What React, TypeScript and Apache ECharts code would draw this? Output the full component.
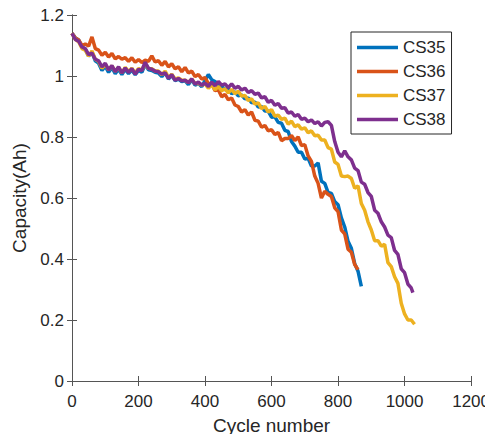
import React, { useEffect, useRef } from "react";
import * as echarts from "echarts";

const seriesNames = ["CS35", "CS36", "CS37", "CS38"];
const colors = ["#0072BD", "#D95319", "#EDB120", "#7E2F8E"];

const xTicks = [0, 200, 400, 600, 800, 1000, 1200];
const yTicks = [0, 0.2, 0.4, 0.6, 0.8, 1, 1.2];

const cyclesCS35 = [0,10,20,30,40,50,60,70,80,90,100,110,120,130,140,150,160,170,180,190,200,210,220,230,240,250,260,270,280,290,300,310,320,330,340,350,360,370,380,390,400,410,420,430,440,450,460,470,480,490,500,510,520,530,540,550,560,570,580,590,600,610,620,630,640,650,660,670,680,690,700,710,720,730,740,750,760,770,780,790,800,810,820,830,840,850,860,870];
const capCS35 = [1.14,1.125,1.118,1.095,1.088,1.065,1.078,1.05,1.042,1.018,1.032,1.012,1.028,1.008,1.022,1.005,1.022,1.008,1.02,1.004,1.018,1.012,1.038,1.02,1.018,1.012,1.01,0.998,1.012,0.99,1.002,0.985,0.99,0.982,0.985,0.972,0.988,0.97,0.976,0.965,0.985,1.005,0.988,0.982,0.97,0.968,0.955,0.958,0.942,0.948,0.935,0.938,0.925,0.928,0.912,0.915,0.898,0.9,0.885,0.885,0.865,0.866,0.848,0.845,0.822,0.818,0.785,0.77,0.75,0.75,0.728,0.73,0.705,0.705,0.715,0.655,0.648,0.618,0.615,0.588,0.578,0.535,0.505,0.458,0.435,0.385,0.36,0.31];

const cyclesCS36 = [0,10,20,30,40,50,60,70,80,90,100,110,120,130,140,150,160,170,180,190,200,210,220,230,240,250,260,270,280,290,300,310,320,330,340,350,360,370,380,390,400,410,420,430,440,450,460,470,480,490,500,510,520,530,540,550,560,570,580,590,600,610,620,630,640,650,660,670,680,690,700,710,720,730,740,750,760,770,780,790,800,810,820,830,840,850,860];
const capCS36 = [1.14,1.125,1.118,1.1,1.105,1.098,1.128,1.09,1.085,1.068,1.078,1.062,1.074,1.056,1.064,1.055,1.06,1.048,1.06,1.045,1.054,1.044,1.052,1.048,1.066,1.046,1.05,1.035,1.048,1.03,1.04,1.024,1.03,1.014,1.028,1.01,1.016,0.998,1.005,0.99,0.995,0.975,0.975,0.952,0.955,0.932,0.94,0.922,0.928,0.905,0.9,0.882,0.89,0.872,0.882,0.855,0.852,0.832,0.838,0.82,0.824,0.808,0.815,0.788,0.795,0.795,0.805,0.788,0.8,0.772,0.775,0.738,0.72,0.672,0.648,0.6,0.622,0.612,0.605,0.568,0.555,0.495,0.482,0.432,0.422,0.382,0.365];

const cyclesCS37 = [0,10,20,30,40,50,60,70,80,90,100,110,120,130,140,150,160,170,180,190,200,210,220,230,240,250,260,270,280,290,300,310,320,330,340,350,360,370,380,390,400,410,420,430,440,450,460,470,480,490,500,510,520,530,540,550,560,570,580,590,600,610,620,630,640,650,660,670,680,690,700,710,720,730,740,750,760,770,780,790,800,810,820,830,840,850,860,870,880,890,900,910,920,930,940,950,960,970,980,990,1000,1010,1020,1030];
const capCS37 = [1.14,1.12,1.112,1.09,1.085,1.065,1.082,1.055,1.048,1.025,1.038,1.02,1.033,1.015,1.028,1.01,1.028,1.015,1.025,1.01,1.024,1.02,1.04,1.025,1.024,1.016,1.016,1.004,1.016,0.995,1.006,0.99,0.994,0.986,0.986,0.978,0.99,0.975,0.976,0.97,0.974,0.96,0.972,0.955,0.966,0.952,0.958,0.945,0.956,0.942,0.95,0.934,0.936,0.92,0.925,0.908,0.912,0.893,0.9,0.882,0.89,0.868,0.872,0.858,0.862,0.842,0.852,0.834,0.84,0.826,0.83,0.814,0.82,0.804,0.806,0.79,0.79,0.765,0.76,0.718,0.71,0.672,0.67,0.672,0.664,0.632,0.64,0.582,0.56,0.522,0.495,0.46,0.46,0.442,0.448,0.388,0.375,0.342,0.32,0.255,0.22,0.2,0.2,0.186];

const cyclesCS38 = [0,10,20,30,40,50,60,70,80,90,100,110,120,130,140,150,160,170,180,190,200,210,220,230,240,250,260,270,280,290,300,310,320,330,340,350,360,370,380,390,400,410,420,430,440,450,460,470,480,490,500,510,520,530,540,550,560,570,580,590,600,610,620,630,640,650,660,670,680,690,700,710,720,730,740,750,760,770,780,790,800,810,820,830,840,850,860,870,880,890,900,910,920,930,940,950,960,970,980,990,1000,1010,1020,1025];
const capCS38 = [1.14,1.12,1.114,1.095,1.09,1.07,1.075,1.055,1.05,1.03,1.042,1.02,1.034,1.014,1.03,1.01,1.026,1.012,1.024,1.006,1.022,1.018,1.045,1.025,1.022,1.016,1.014,1.006,1.01,0.992,1.004,0.986,0.992,0.984,0.986,0.978,0.99,0.974,0.98,0.97,0.976,0.966,0.98,0.968,0.982,0.97,0.974,0.962,0.974,0.96,0.966,0.954,0.96,0.946,0.952,0.94,0.944,0.928,0.932,0.914,0.92,0.904,0.91,0.894,0.896,0.878,0.882,0.868,0.874,0.858,0.862,0.85,0.856,0.844,0.85,0.836,0.848,0.85,0.838,0.785,0.75,0.735,0.755,0.735,0.725,0.698,0.69,0.652,0.645,0.618,0.605,0.56,0.55,0.522,0.505,0.478,0.47,0.428,0.415,0.368,0.355,0.318,0.305,0.29];

const allCycles = [cyclesCS35, cyclesCS36, cyclesCS37, cyclesCS38];
const allCaps = [capCS35, capCS36, capCS37, capCS38];

const FONT = "'Liberation Sans', Arial, sans-serif";
const AXIS_COLOR = "#555555";
const TEXT_COLOR = "#262626";

export default function App() {
  const ref = useRef<HTMLDivElement>(null);
  useEffect(() => {
    if (!ref.current) return;
    const chart = echarts.init(ref.current, null, { renderer: "svg" });
    const axisCommon = {
      type: "value" as const,
      axisLine: { show: true, lineStyle: { color: AXIS_COLOR, width: 1 } },
      axisTick: { show: true, inside: true, length: 5, lineStyle: { color: AXIS_COLOR } },
      splitLine: { show: false },
    };
    chart.setOption({
      animation: false,
      backgroundColor: "#ffffff",
      grid: { left: 72, right: 21, top: 15, bottom: 61, containLabel: false },
      legend: {
        data: seriesNames.map((n) => ({ name: n, icon: "rect" })),
        orient: "vertical",
        left: 351,
        top: 32,
        padding: [7, 6, 6, 6],
        itemWidth: 41,
        itemHeight: 3.5,
        itemGap: 7,
        borderColor: "#262626",
        borderWidth: 1,
        backgroundColor: "#ffffff",
        textStyle: { fontFamily: FONT, fontSize: 17, color: TEXT_COLOR },
      },
      xAxis: [
        {
          ...axisCommon,
          position: "bottom",
          min: xTicks[0],
          max: xTicks[xTicks.length - 1],
          interval: 200,
          name: "Cycle number",
          nameLocation: "middle",
          nameGap: 35,
          nameTextStyle: { fontFamily: FONT, fontSize: 19, color: TEXT_COLOR },
          axisLabel: {
            fontFamily: FONT,
            fontSize: 17,
            color: TEXT_COLOR,
            margin: 12,
            formatter: (v: number) => String(v),
          },
        },
        {
          ...axisCommon,
          position: "top",
          min: xTicks[0],
          max: xTicks[xTicks.length - 1],
          interval: 200,
          axisLabel: { show: false },
        },
      ],
      yAxis: [
        {
          ...axisCommon,
          position: "left",
          min: yTicks[0],
          max: yTicks[yTicks.length - 1],
          interval: 0.2,
          name: "Capacity(Ah)",
          nameLocation: "middle",
          nameGap: 41,
          nameTextStyle: { fontFamily: FONT, fontSize: 19, color: TEXT_COLOR },
          axisLabel: {
            fontFamily: FONT,
            fontSize: 17,
            color: TEXT_COLOR,
            margin: 8,
            formatter: (v: number) => String(Math.round(v * 10) / 10),
          },
        },
        {
          ...axisCommon,
          position: "right",
          min: yTicks[0],
          max: yTicks[yTicks.length - 1],
          interval: 0.2,
          axisLabel: { show: false },
        },
      ],
      series: seriesNames.map((name, i) => ({
        name,
        type: "line",
        xAxisIndex: 0,
        yAxisIndex: 0,
        symbol: "none",
        showSymbol: false,
        lineStyle: { color: colors[i], width: 3.5 },
        itemStyle: { color: colors[i] },
        data: allCycles[i].map((c, j) => [c, allCaps[i][j]]),
      })),
    });
    return () => chart.dispose();
  }, []);
  return <div ref={ref} style={{ width: 493, height: 442, margin: -8 }} />;
}
